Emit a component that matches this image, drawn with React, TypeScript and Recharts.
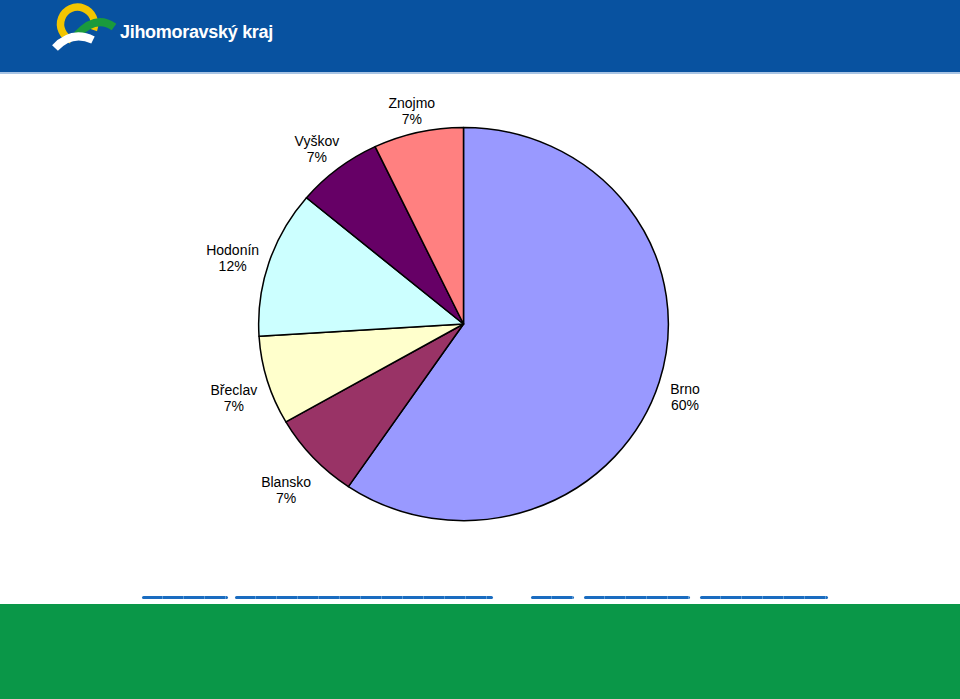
import { PieChart, Pie, Cell } from 'recharts'

const districts = ['Brno', 'Blansko', 'Břeclav', 'Hodonín', 'Vyškov', 'Znojmo']
const shares = [59.5, 7.2, 7.3, 12.1, 6.8, 7.1]
const colors = ['#9999ff', '#993366', '#ffffcc', '#ccffff', '#660066', '#ff8080']

// underline segments at the bottom of the slide (x from, x to)
const linkStarts = [142, 235, 531, 584, 700]
const linkEnds = [228, 493, 574, 690, 828]

const rows = districts.map((name, i) => ({ name, value: shares[i] }))
const RAD = Math.PI / 180
const ASPECT = 1.042 // the slide stretches the pie a little sideways
const FONT = "Arial, 'Liberation Sans', sans-serif"

let ctx: CanvasRenderingContext2D | null = null
function textWidth(s: string) {
  if (!ctx) ctx = document.createElement('canvas').getContext('2d')
  if (!ctx) return s.length * 7.5
  ctx.font = `14px ${FONT}`
  return ctx.measureText(s).width
}

function EllipseSector(props: any) {
  const { cx, cy, outerRadius, startAngle, endAngle, fill } = props
  const rx = outerRadius * ASPECT, ry = outerRadius
  const pt = (a: number) => [cx + rx * Math.cos(a * RAD), cy - ry * Math.sin(a * RAD)]
  const [x1, y1] = pt(startAngle)
  const [x2, y2] = pt(endAngle)
  const large = Math.abs(startAngle - endAngle) > 180 ? 1 : 0
  const sweep = startAngle > endAngle ? 1 : 0
  return (
    <path d={`M ${cx} ${cy} L ${x1} ${y1} A ${rx} ${ry} 0 ${large} ${sweep} ${x2} ${y2} Z`}
      fill={fill} stroke="#000" strokeWidth={1.5} strokeLinejoin="round" />
  )
}

function Label({ cx, cy, midAngle, outerRadius, name, percent }: any) {
  const pct = `${Math.round(percent * 100)}%`
  const ux = Math.cos(midAngle * RAD), uy = -Math.sin(midAngle * RAD)
  const w = Math.max(textWidth(name), textWidth(pct)), h = 32
  const push = 8 + (w / 2) * Math.abs(ux) + (h / 2) * Math.abs(uy)
  const x = cx + outerRadius * ASPECT * ux + push * ux
  const y = cy + outerRadius * uy + push * uy + 7
  return (
    <text x={x} y={y} textAnchor="middle" fill="#000" fontSize={14} fontFamily={FONT}>
      <tspan x={x} y={y - 8} dominantBaseline="central">{name}</tspan>
      <tspan x={x} y={y + 8} dominantBaseline="central">{pct}</tspan>
    </text>
  )
}

function Logo() {
  return (
    <svg width={140} height={60} style={{ position: 'absolute', left: 0, top: 0 }}>
      <path d="M 93.5 30 A 17 17 0 1 0 71.4 40" fill="none" stroke="#f2c500" strokeWidth={7.5} />
      <path d="M 77 35 Q 96 14 114 27" fill="none" stroke="#1a9a3c" strokeWidth={8} />
      <path d="M 55 48 Q 72 30 93 40" fill="none" stroke="#ffffff" strokeWidth={8} />
    </svg>
  )
}

export default function App() {
  return (
    <div style={{ position: 'absolute', left: 0, top: 0, width: 960, height: 699, background: '#fff', overflow: 'hidden' }}>
      <div style={{ position: 'absolute', left: 0, top: 0, width: 960, height: 72, background: '#0852a0' }} />
      <div style={{ position: 'absolute', left: 0, top: 72, width: 960, height: 2, background: '#a8c4e4' }} />
      <Logo />
      <div style={{ position: 'absolute', left: 120, top: 22, color: '#fff', fontFamily: FONT, fontWeight: 700, fontSize: 18, letterSpacing: -0.3 }}>
        Jihomoravský kraj
      </div>
      {linkStarts.map((s, i) => (
        <div key={i} style={{
          position: 'absolute', left: s, top: 596, width: linkEnds[i] - s, height: 3, borderRadius: 1.5,
          background: 'repeating-linear-gradient(90deg, #1a6cc0 0 20px, #5b9ad6 20px 21px)',
        }} />
      ))}
      <div style={{ position: 'absolute', left: 0, top: 604, width: 960, height: 95, background: '#0a9748' }} />
      <div style={{ position: 'absolute', left: 0, top: 0 }}>
        <PieChart width={960} height={699} margin={{ top: 0, right: 0, bottom: 0, left: 0 }}>
          <Pie
            data={rows}
            dataKey="value"
            nameKey="name"
            cx={463.5}
            cy={324}
            outerRadius={196.6}
            startAngle={90}
            endAngle={-270}
            stroke="#000"
            strokeWidth={1.5}
            shape={EllipseSector}
            inactiveShape={EllipseSector}
            activeShape={EllipseSector}
            label={Label}
            labelLine={false}
            isAnimationActive={false}
          >
            {rows.map((r, i) => <Cell key={r.name} fill={colors[i]} />)}
          </Pie>
        </PieChart>
      </div>
    </div>
  )
}
